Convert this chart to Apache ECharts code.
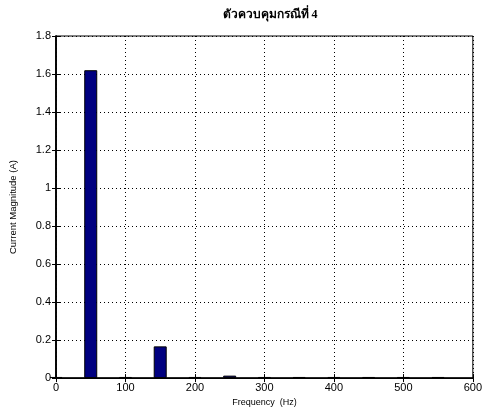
<!DOCTYPE html>
<html>
<head>
<meta charset="utf-8">
<script src="https://cdn.jsdelivr.net/npm/echarts@6/dist/echarts.min.js"></script>
<style>html,body{margin:0;padding:0;background:#fff}#c{width:485px;height:412px}</style>
</head>
<body>
<div id="c"></div>
<script>
const titleText = 'ตัวควบคุมกรณีที่ 4';
const frequencies = [0, 50, 100, 150, 200, 250, 300, 350, 400, 450, 500, 550];
const magnitudes = [0.006, 1.62, 0.006, 0.167, 0.006, 0.013, 0.006, 0.006, 0.006, 0.006, 0.006, 0.006];
const xName = 'Frequency  (Hz)';
const yName = 'Current Magnitude (A)';

const chart = echarts.init(document.getElementById('c'));
const font = 'Liberation Sans, Arial, sans-serif';
const gridLine = {show: true, lineStyle: {color: '#000', type: [1, 3], width: 1}};
chart.setOption({
  animation: false,
  title: {text: titleText, left: 265, textAlign: 'center', top: 4,
    textStyle: {fontFamily: 'Liberation Serif, serif', fontWeight: 'bold', fontSize: 12, color: '#000'}},
  grid: {left: 54, right: 9, top: 36, bottom: 31, show: true, borderColor: '#000', borderWidth: 1},
  xAxis: [{
    type: 'value', min: 0, max: 600, interval: 100,
    name: xName, nameLocation: 'middle', nameGap: 19,
    nameTextStyle: {fontFamily: font, fontSize: 9, color: '#000'},
    axisLine: {show: true, onZero: false, lineStyle: {color: '#000', width: 1.5}},
    axisTick: {show: true, inside: true, length: 4, lineStyle: {color: '#000'}},
    axisLabel: {fontFamily: font, fontSize: 11, color: '#000', margin: 4},
    splitLine: gridLine
  }, {
    type: 'value', min: 0, max: 600, interval: 100, position: 'top',
    axisLine: {show: true, lineStyle: {color: '#000', width: 1}},
    axisTick: {show: true, inside: true, length: 4, lineStyle: {color: '#000'}},
    axisLabel: {show: false}, splitLine: {show: false}
  }],
  yAxis: [{
    type: 'value', min: 0, max: 1.8, interval: 0.2,
    name: yName, nameLocation: 'middle', nameGap: 38,
    nameTextStyle: {fontFamily: font, fontSize: 9.5, color: '#000'},
    axisLine: {show: true, lineStyle: {color: '#000', width: 1.5}},
    axisTick: {show: true, inside: true, length: 4, lineStyle: {color: '#000'}},
    axisLabel: {fontFamily: font, fontSize: 11, color: '#000', margin: 5},
    splitLine: gridLine
  }, {
    type: 'value', min: 0, max: 1.8, interval: 0.2, position: 'right',
    axisLine: {show: true, lineStyle: {color: '#000', width: 1.5}},
    axisTick: {show: true, inside: true, length: 4, lineStyle: {color: '#000'}},
    axisLabel: {show: false}, splitLine: {show: false}
  }],
  series: [{
    type: 'bar',
    barWidth: 13,
    clip: true,
    data: frequencies.map((f, i) => [f, magnitudes[i]]),
    itemStyle: {color: '#000080', borderColor: '#000', borderWidth: 1}
  }]
});
</script>
</body>
</html>
